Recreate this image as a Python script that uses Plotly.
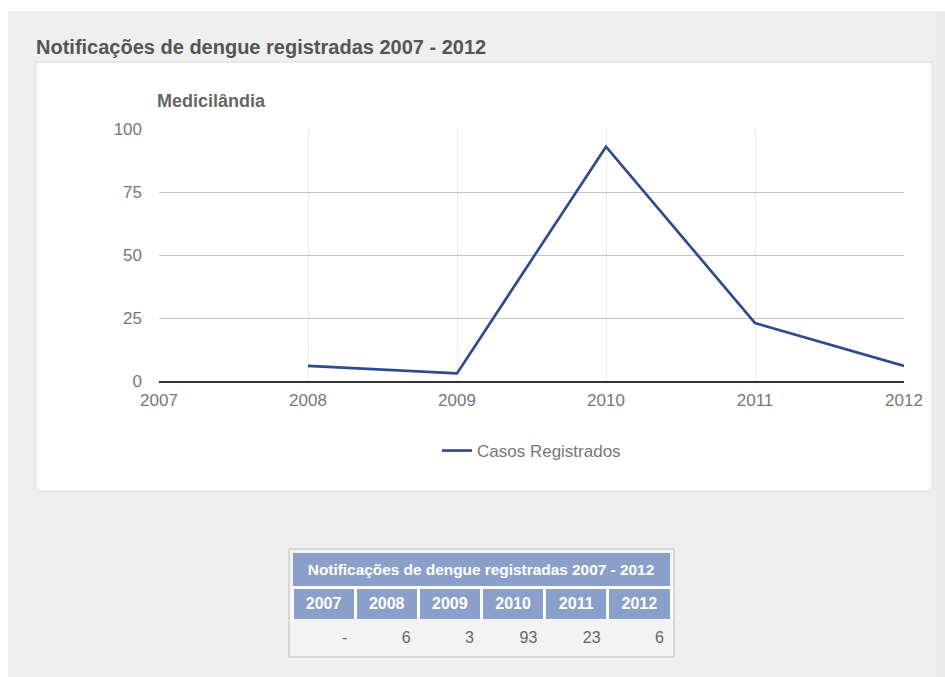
import plotly.graph_objects as go

# Dengue notifications, Medicilândia
years = [2007, 2008, 2009, 2010, 2011, 2012]
cases = [None, 6, 3, 93, 23, 6]
y_ticks = [0, 25, 50, 75, 100]

page_title = "Notificações de dengue registradas 2007 - 2012"
chart_title = "Medicilândia"
series_name = "Casos Registrados"

W, H = 945, 677
FONT = "Arial, 'Liberation Sans', sans-serif"
LINE_COLOR = "#2d4b8e"
HEAD_FILL = "#8b9fcb"
PAGE_BG = "#efefef"
ROW_BG = "#f3f3f3"


def px(x):
    return x / W


def py(y):
    return 1 - y / H


def table_row(values, x0, x1, y_top, y_bottom, height, fill, line, align, font):
    """A single table row, drawn as the header of a go.Table."""
    return go.Table(
        domain=dict(x=[px(x0), px(x1)], y=[py(y_bottom), py(y_top)]),
        header=dict(values=values, fill_color=fill, line=line, height=height,
                    align=align, font=font),
        cells=dict(values=[[] for _ in values], height=1),
    )


fig = go.Figure()

fig.add_trace(go.Scatter(
    x=years, y=cases, mode="lines", name=series_name,
    line=dict(color=LINE_COLOR, width=2.7),
    connectgaps=False, showlegend=True, hoverinfo="x+y",
))

# Summary table: title bar, year row and values row
fig.add_trace(table_row(
    [f"<b>{page_title}</b>"], 293, 670, 553, 586, 31, HEAD_FILL,
    dict(color=HEAD_FILL, width=1), "center",
    dict(family=FONT, size=15.4, color="white")))

fig.add_trace(table_row(
    [f"<b>{y}</b>" for y in years], 292, 671, 587, 620, 31, HEAD_FILL,
    dict(color="white", width=3), "center",
    dict(family=FONT, size=16, color="white")))

fig.add_trace(table_row(
    ["-" if v is None else str(v) for v in cases], 292, 673, 623, 656, 31, ROW_BG,
    dict(color=ROW_BG, width=1), "right",
    dict(family=FONT, size=16, color="#666666")))

shapes = [
    # page background with thin white strip along top/left
    dict(type="rect", xref="paper", yref="paper", x0=px(8), x1=1, y0=0, y1=py(11),
         fillcolor=PAGE_BG, line=dict(width=0), layer="below"),
    dict(type="rect", xref="paper", yref="paper", x0=px(936), x1=1, y0=0, y1=py(11),
         fillcolor="#eaeaea", line=dict(width=0), layer="below"),
    # chart panel
    dict(type="rect", xref="paper", yref="paper", x0=px(36), x1=px(932), y0=py(491), y1=py(62),
         fillcolor="white", line=dict(color="#dcdcdc", width=1), layer="below"),
    # table frame
    dict(type="rect", xref="paper", yref="paper", x0=px(289), x1=px(674), y0=py(657), y1=py(549),
         fillcolor=ROW_BG, line=dict(color="#bdbdbd", width=1), layer="below"),
]

annotations = [
    dict(text=f"<b>{page_title}</b>", x=px(34), y=py(47), xref="paper", yref="paper",
         xanchor="left", yanchor="middle", showarrow=False,
         font=dict(family=FONT, size=20, color="#555555")),
    dict(text=f"<b>{chart_title}</b>", x=px(155), y=py(101), xref="paper", yref="paper",
         xanchor="left", yanchor="middle", showarrow=False,
         font=dict(family=FONT, size=18, color="#666666")),
]

fig.update_layout(
    template="none",
    width=W, height=H, autosize=False,
    margin=dict(l=0, r=0, t=0, b=0, pad=0),
    paper_bgcolor="white", plot_bgcolor="white",
    font=dict(family=FONT, color="#777777"),
    shapes=shapes, annotations=annotations,
    xaxis=dict(domain=[px(159), px(904)], range=[2007, 2012], automargin=False,
               tickmode="array", tickvals=years, ticktext=[str(y) for y in years],
               showgrid=True, gridcolor="#ececec", gridwidth=1,
               showline=True, linecolor="#333333", linewidth=1.6,
               zeroline=False, ticks="", ticklabelstandoff=3,
               tickfont=dict(family=FONT, size=17, color="#777777"), fixedrange=True),
    yaxis=dict(domain=[py(381), py(129)], range=[0, 100], automargin=False,
               tickmode="array", tickvals=y_ticks,
               showgrid=True, gridcolor="#c6c6c6", gridwidth=1,
               zeroline=False, showline=False, ticks="", ticklabelstandoff=16,
               tickfont=dict(family=FONT, size=17, color="#777777"), fixedrange=True),
    showlegend=True,
    legend=dict(orientation="h", x=px(437), y=py(433), xanchor="left", yanchor="top",
                bgcolor="rgba(0,0,0,0)", borderwidth=0,
                font=dict(family=FONT, size=17, color="#777777")),
)

fig.write_html("out.html")
